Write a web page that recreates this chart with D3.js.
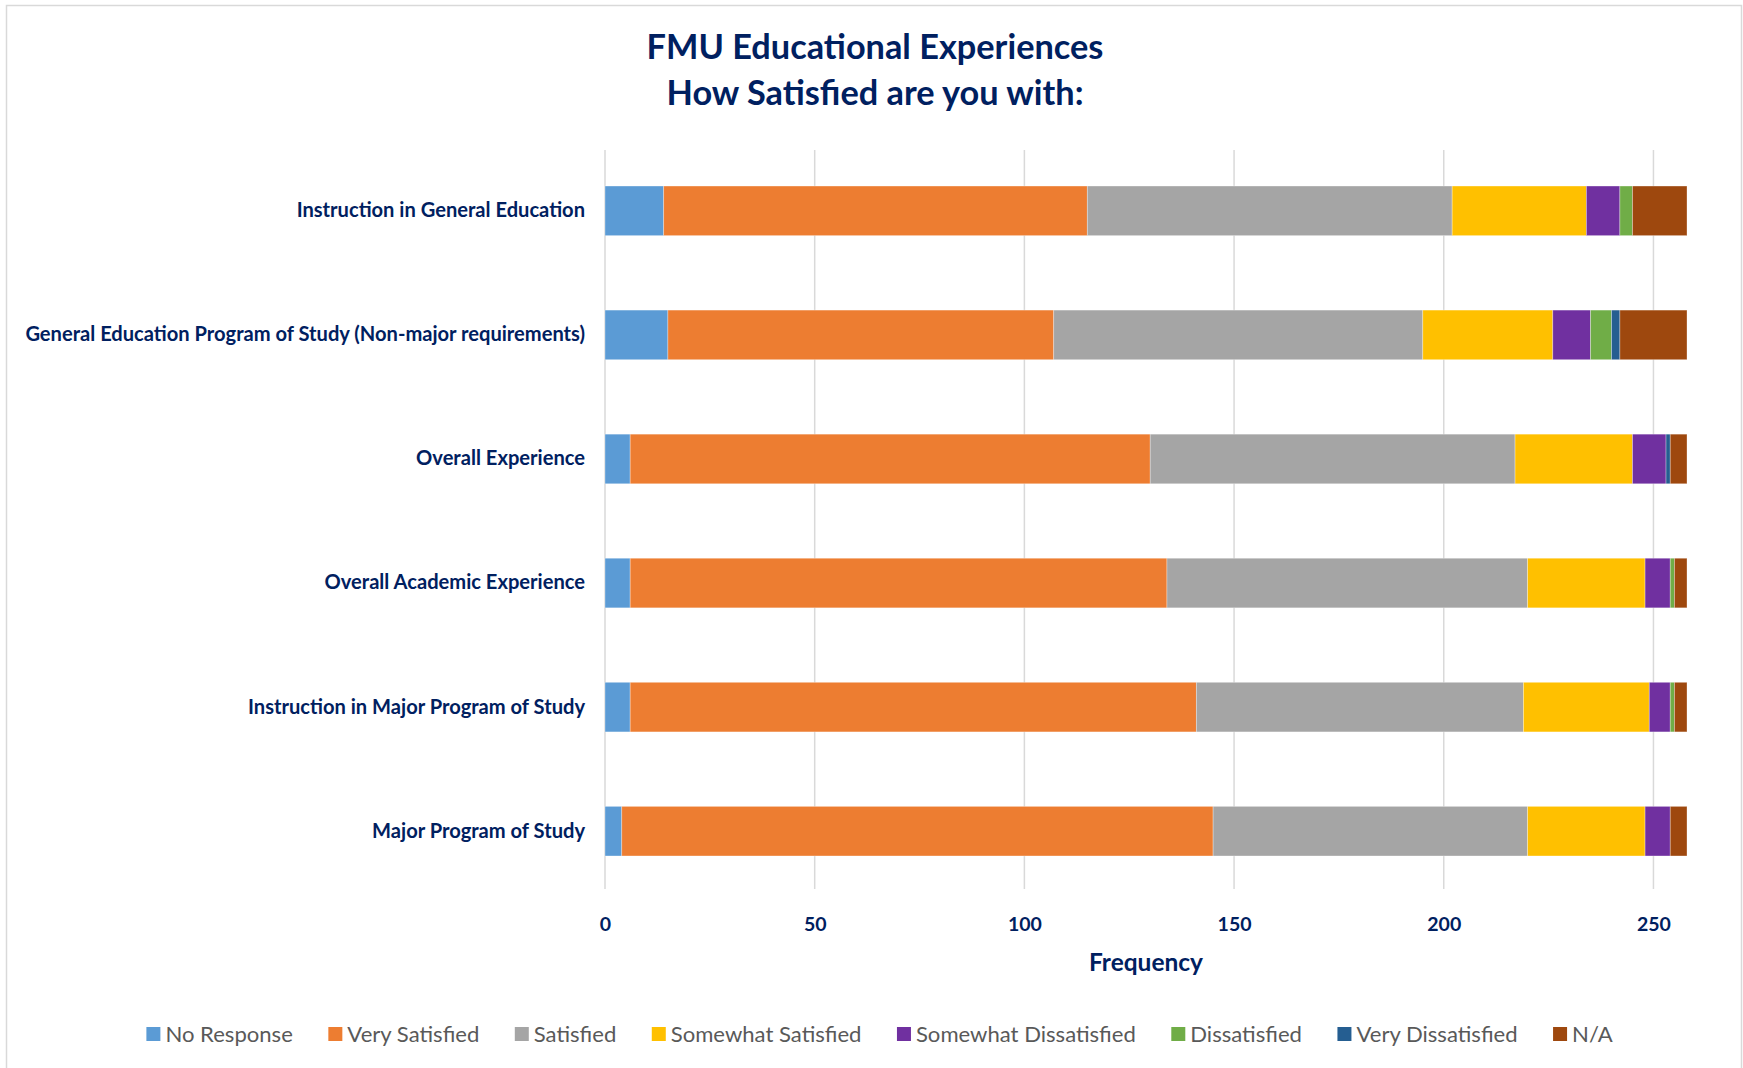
<!DOCTYPE html>
<html><head><meta charset="utf-8">
<script src="https://cdn.jsdelivr.net/npm/d3@7"></script>
<style>body{margin:0;background:#fff} svg{display:block} text{font-family:Lato,"Open Sans",sans-serif}</style>
</head><body><svg id="c" width="1743" height="1068"></svg>
<script>
const categories = ["Instruction in General Education", "General Education Program of Study (Non-major requirements)", "Overall Experience", "Overall Academic Experience", "Instruction in Major Program of Study", "Major Program of Study"];
const seriesNames = ["No Response","Very Satisfied","Satisfied","Somewhat Satisfied","Somewhat Dissatisfied","Dissatisfied","Very Dissatisfied","N/A"];
const noResponse = [14,15,6,6,6,4];
const verySatisfied = [101,92,124,128,135,141];
const satisfied = [87,88,87,86,78,75];
const somewhatSatisfied = [32,31,28,28,30,28];
const somewhatDissatisfied = [8,9,8,6,5,6];
const dissatisfied = [3,5,0,1,1,0];
const veryDissatisfied = [0,2,1,0,0,0];
const notApplicable = [13,16,4,3,3,4];
const xTicks = [0,50,100,150,200,250];
const xMax = 258;
const titleLines = ["FMU Educational Experiences","How Satisfied are you with:"];
const xTitle = "Frequency";
const colors = ["#5B9BD5","#ED7D31","#A5A5A5","#FFC000","#7030A0","#70AD47","#255E91","#9E480E"];

const seriesValues = [noResponse,verySatisfied,satisfied,somewhatSatisfied,somewhatDissatisfied,dissatisfied,veryDissatisfied,notApplicable];
const rows = categories.map((c,i)=>{const o={category:c}; seriesNames.forEach((s,j)=>o[s]=seriesValues[j][i]); return o;});
const stacked = d3.stack().keys(seriesNames)(rows);

const svg = d3.select("#c");
const navy = "#002060";
const plot = {left:605, right:1687, top:150, bottom:889};

function fit(sel, target){
  sel.each(function(){
    const w = this.getComputedTextLength();
    const fs = parseFloat(d3.select(this).attr("font-size"));
    d3.select(this).attr("font-size", fs*target/w);
  });
}

svg.append("rect").attr("x",6.5).attr("y",5.5).attr("width",1735).attr("height",1080)
  .attr("fill","#fff").attr("stroke","#d9d9d9").attr("stroke-width",1.5);

const x = d3.scaleLinear().domain([0,xMax]).range([plot.left,plot.right]);
const y = d3.scaleBand().domain(categories).range([148.8,893.2]).paddingInner(0.6).paddingOuter(0.3);

// gridlines
svg.append("g").selectAll("line").data(xTicks).join("line")
  .attr("x1",d=>x(d)).attr("x2",d=>x(d)).attr("y1",plot.top).attr("y2",plot.bottom)
  .attr("stroke","#d9d9d9").attr("stroke-width",1.5);

// bars
svg.append("g").selectAll("g").data(stacked).join("g")
  .attr("fill",(d,i)=>colors[i])
  .selectAll("rect").data(d=>d).join("rect")
  .attr("x",d=>x(d[0])).attr("width",d=>x(d[1])-x(d[0]))
  .attr("y",d=>y(d.data.category)).attr("height",y.bandwidth())
  .attr("stroke","#ffffff").attr("stroke-opacity",0.45).attr("stroke-width",0.7);

// x axis tick labels
const xAxis = d3.axisBottom(x).tickValues(xTicks).tickSize(0).tickPadding(0);
const xg = svg.append("g").attr("transform",`translate(0,${plot.bottom})`).call(xAxis);
xg.select(".domain").remove();
xg.selectAll("text").attr("font-family","Lato,'Open Sans',sans-serif").attr("font-weight","bold")
  .attr("font-size",19.5).attr("fill",navy).attr("dy",null).attr("y",42);

// category labels
const yAxis = d3.axisLeft(y).tickSize(0).tickPadding(20);
const yg = svg.append("g").attr("transform",`translate(${plot.left},0)`).call(yAxis);
yg.select(".domain").remove();
yg.selectAll("text").attr("font-family","Lato,'Open Sans',sans-serif").attr("font-weight","bold")
  .attr("font-size",18).attr("fill",navy);
{
  const longest = yg.selectAll("text").filter(d=>d===categories[1]);
  const w = longest.node().getComputedTextLength();
  const fs = 18*560/w;
  yg.selectAll("text").attr("font-size",fs);
}

// axis title
svg.append("text").attr("x",(plot.left+plot.right)/2).attr("y",971).attr("text-anchor","middle")
  .attr("font-weight","bold").attr("font-size",22).attr("fill",navy).text(xTitle).call(fit,114);

// title
const tt = svg.append("g");
tt.selectAll("text").data(titleLines).join("text")
  .attr("x",875).attr("y",(d,i)=>[59,105][i]).attr("text-anchor","middle")
  .attr("font-weight","bold").attr("font-size",30).attr("fill",navy).text(d=>d);
{
  const n = tt.select("text").node();
  const fs = 30*457/n.getComputedTextLength();
  tt.selectAll("text").attr("font-size",fs);
}

// legend
const lg = svg.append("g");
const items = lg.selectAll("g").data(seriesNames).join("g");
items.append("rect").attr("width",14).attr("height",14).attr("y",-7).attr("fill",(d,i)=>colors[i]);
const lt = items.append("text").attr("x",19).attr("dy","0.35em").attr("font-size",20).attr("fill","#595959").text(d=>d);
{
  const n = lt.filter(d=>d==="Somewhat Dissatisfied").node();
  const fs = 20*220/n.getComputedTextLength();
  lt.attr("font-size",fs);
  const widths = lt.nodes().map(n=>19+n.getComputedTextLength());
  const gap = 35.5;
  const total = d3.sum(widths)+gap*(widths.length-1);
  let cx = 879.5 - total/2;
  items.attr("transform",(d,i)=>{const t=`translate(${cx},1034)`; cx+=widths[i]+gap; return t;});
}
</script></body></html>
